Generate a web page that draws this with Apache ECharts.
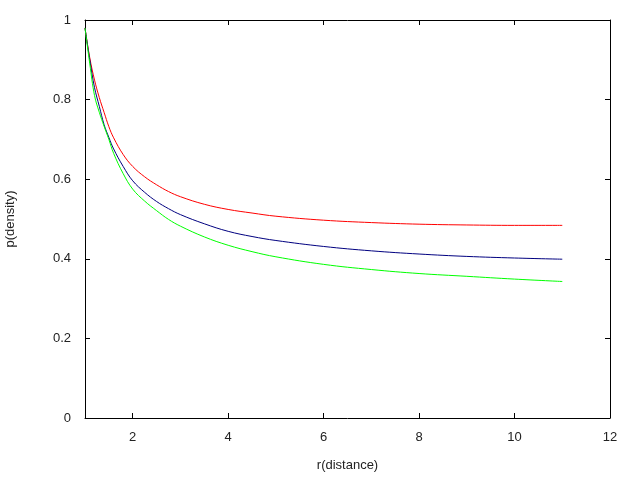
<!DOCTYPE html>
<html>
<head>
<meta charset="utf-8">
<script src="https://cdn.jsdelivr.net/npm/echarts@6/dist/echarts.min.js"></script>
<style>html,body{margin:0;padding:0;background:#fff;}#c{width:640px;height:480px;}</style>
</head>
<body>
<div id="c"></div>
<script>
var rValues = [1, 1.1, 1.2, 1.3, 1.4, 1.5, 1.6, 1.8, 2, 2.25, 2.5, 2.75, 3, 3.5, 4, 4.5, 5, 6, 7, 8, 9, 10, 11];
var redValues = [0.98, 0.905, 0.849, 0.805, 0.768, 0.732, 0.704, 0.662, 0.632, 0.606, 0.586, 0.569, 0.556, 0.537, 0.524, 0.515, 0.507, 0.497, 0.491, 0.487, 0.485, 0.484, 0.484];
var blueValues = [0.98, 0.90, 0.83, 0.783, 0.737, 0.705, 0.676, 0.632, 0.596, 0.567, 0.544, 0.526, 0.511, 0.488, 0.469, 0.456, 0.446, 0.431, 0.420, 0.412, 0.406, 0.402, 0.399];
var greenValues = [0.98, 0.89, 0.81, 0.768, 0.733, 0.70, 0.665, 0.614, 0.575, 0.545, 0.521, 0.499, 0.482, 0.455, 0.434, 0.418, 0.405, 0.386, 0.373, 0.363, 0.356, 0.349, 0.343];
var xTitle = 'r(distance)';
var yTitle = 'p(density)';

function pairs(ys) { return rValues.map(function (r, i) { return [r, ys[i]]; }); }

var font = 'Liberation Sans, Arial, sans-serif';
var txt = '#222';
var lineStyle = { color: '#000', width: 1 };
var tick = { show: true, inside: true, length: 5, lineStyle: { color: '#000', width: 1 } };

var chart = echarts.init(document.getElementById('c'), null, { renderer: 'canvas' });
chart.setOption({
  animation: false,
  backgroundColor: '#fff',
  grid: { left: 85, right: 30, top: 20, bottom: 62, containLabel: false, outerBoundsMode: 'none' },
  xAxis: [
    {
      type: 'value', min: 1, max: 12, splitNumber: 5, position: 'bottom',
      name: xTitle, nameLocation: 'middle', nameGap: 41,
      nameTextStyle: { fontFamily: font, fontSize: 13, color: txt },
      axisLine: { show: true, onZero: false, lineStyle: lineStyle },
      axisTick: tick,
      axisLabel: { showMinLabel: false, fontFamily: font, fontSize: 13, color: txt, margin: 13 },
      splitLine: { show: false }
    },
    {
      type: 'value', min: 1, max: 12, splitNumber: 5, position: 'top',
      axisLine: { show: true, onZero: false, lineStyle: lineStyle },
      axisTick: tick,
      axisLabel: { show: false },
      splitLine: { show: false }
    }
  ],
  yAxis: [
    {
      type: 'value', min: 0, max: 1, interval: 0.2, position: 'left',
      name: yTitle, nameLocation: 'middle', nameGap: 68, nameRotate: 90,
      nameTextStyle: { fontFamily: font, fontSize: 13, color: txt },
      axisLine: { show: true, onZero: false, lineStyle: lineStyle },
      axisTick: tick,
      axisLabel: { fontFamily: font, fontSize: 13, color: txt, margin: 14 },
      splitLine: { show: false }
    },
    {
      type: 'value', min: 0, max: 1, interval: 0.2, position: 'right',
      axisLine: { show: true, onZero: false, lineStyle: lineStyle },
      axisTick: tick,
      axisLabel: { show: false },
      splitLine: { show: false }
    }
  ],
  series: [
    { type: 'line', data: pairs(redValues), smooth: 0.4, showSymbol: false, lineStyle: { color: '#ff0000', width: 1 }, itemStyle: { color: '#ff0000' } },
    { type: 'line', data: pairs(blueValues), smooth: 0.4, showSymbol: false, lineStyle: { color: '#000080', width: 1 }, itemStyle: { color: '#000080' } },
    { type: 'line', data: pairs(greenValues), smooth: 0.4, showSymbol: false, lineStyle: { color: '#00ff00', width: 1 }, itemStyle: { color: '#00ff00' } }
  ]
});
</script>
</body>
</html>
